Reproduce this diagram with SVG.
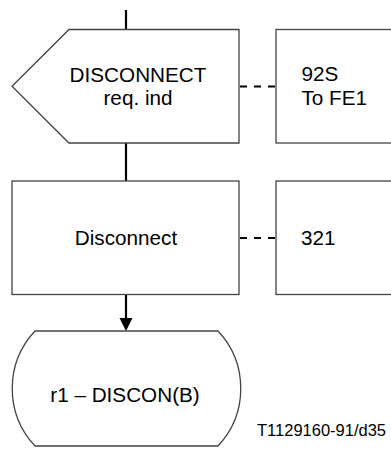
<svg xmlns="http://www.w3.org/2000/svg" width="391" height="449" viewBox="0 0 391 449">
<style>
.shape{fill:#fff;stroke:#444;stroke-width:1.3}
.flow{stroke:#000;stroke-width:2.2;fill:none}
.dash{stroke:#000;stroke-width:2;stroke-dasharray:7 7;fill:none}
text{font-family:"Liberation Sans",Arial,sans-serif;font-size:20.7px;fill:#000}
.c{text-anchor:middle}
.small{font-size:16.5px}
</style>
<g id="connectors">
<line class="flow" x1="126" y1="10" x2="126" y2="29.5"/>
<line class="flow" x1="126" y1="143" x2="126" y2="181"/>
<line class="flow" x1="126" y1="294.5" x2="126" y2="318"/>
<path d="M119.5,318 L132.5,318 L126,331 Z" fill="#000"/>
<line class="dash" x1="240" y1="86.5" x2="276" y2="86.5"/>
<line class="dash" x1="240" y1="238" x2="276" y2="238"/>
</g>
<g id="signal">
<path class="shape" d="M69,29.5 L239,29.5 L239,143 L69,143 L12,86.3 Z"/>
<text class="c" x="138" y="82">DISCONNECT</text>
<text class="c" x="138" y="105">req. ind</text>
</g>
<g id="comment1">
<rect class="shape" x="276" y="29.5" width="130" height="113.5"/>
<text x="301.5" y="81">92S</text>
<text x="301.5" y="105">To FE1</text>
</g>
<g id="task">
<rect class="shape" x="12" y="181" width="227" height="113.5"/>
<text class="c" x="126" y="245">Disconnect</text>
</g>
<g id="comment2">
<rect class="shape" x="276" y="181" width="130" height="113.5"/>
<text x="301" y="245">321</text>
</g>
<g id="terminal">
<path class="shape" d="M35,331 L218,331 A84,84 0 0 1 218,446 L35,446 A84,84 0 0 1 35,331 Z"/>
<text class="c" x="125" y="401.5">r1 – DISCON(B)</text>
</g>
<text class="small" x="257" y="436">T1129160-91/d35</text>
</svg>
